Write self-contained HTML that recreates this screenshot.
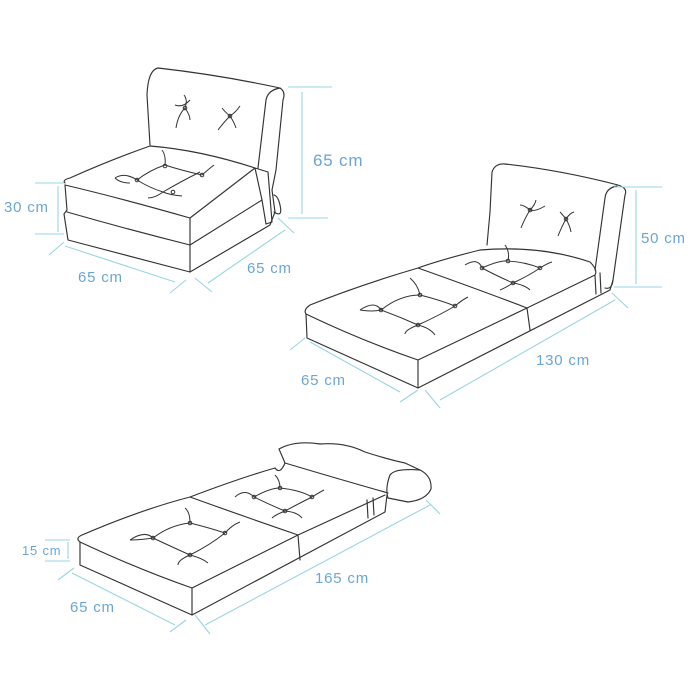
<!DOCTYPE html>
<html><head><meta charset="utf-8"><style>
html,body{margin:0;padding:0;background:#fff;}
svg{display:block}
text{font-family:"Liberation Sans",sans-serif;fill:#6aa6d4;font-size:15px;letter-spacing:0.8px}
.l{fill:none;stroke:#333;stroke-width:1.15;stroke-linejoin:round;stroke-linecap:round}
.t{fill:none;stroke:#333;stroke-width:1}
.d{stroke:#9ad4e3;stroke-width:1.1;fill:none}
</style></head><body>
<svg width="700" height="700" viewBox="0 0 700 700">
<!-- CHAIR -->
<g class="l">
<path d="M150,145 L147,95 Q148,70 158,68 Q220,75 280,88 Q286,92 283,100 L276,170 L272,190"/>
<path d="M280,88 Q268,90 266,100 L258,168"/>
<path d="M65,183 Q62,180 70,178 Q110,160 150,146 Q200,150 255,168 L190,218 Q120,198 65,185"/>
<path d="M65,185 L67,210 L64,214 L68,240 L190,272 L270,225 L275,212 L272,190"/>
<path d="M67,212 Q130,230 190,245 L262,200"/>
<path d="M190,218 L190,272"/>
<path d="M255,168 L262,200 L266,224 L272,222 L268,172 Z"/>
<path d="M274,212 Q283,218 280,205 Q278,196 274,195"/>
</g>
<g class="t">
<path d="M115,178 Q125,172 137,180 Q150,170 165,165 Q180,170 202,175"/>
<path d="M137,180 Q150,188 163,192 Q180,182 200,172"/>
<path d="M165,165 Q166,155 162,150 M163,192 Q170,195 182,196 M163,192 Q155,198 148,198 M202,175 Q210,168 214,165 M115,178 Q120,183 130,183"/>
<circle cx="165" cy="166" r="1.8"/><circle cx="137" cy="180" r="1.8"/><circle cx="202" cy="175" r="1.8"/><circle cx="173" cy="192" r="1.8"/>
<path d="M175,105 Q183,108 190,100 M185,108 Q178,115 176,128 M185,108 Q188,100 184,95 M185,108 Q190,115 190,120"/>
<path d="M230,116 Q236,112 240,106 M230,116 Q224,122 218,130 M230,116 Q234,122 236,128 M230,116 Q225,112 222,108"/>
<circle cx="185" cy="108" r="1.8"/><circle cx="230" cy="116" r="1.8"/>
</g>
<g class="d">
<line x1="35" y1="183" x2="64" y2="183"/><line x1="35" y1="234" x2="64" y2="234"/><line x1="58" y1="186" x2="58" y2="232"/>
<line x1="288" y1="87" x2="332" y2="87"/><line x1="288" y1="218" x2="328" y2="218"/><line x1="302" y1="92" x2="302" y2="214"/>
<line x1="65" y1="246" x2="175" y2="282"/><line x1="49" y1="255" x2="64" y2="242"/><line x1="170" y1="293" x2="186" y2="280"/>
<line x1="208" y1="283" x2="285" y2="230"/><line x1="195" y1="278" x2="212" y2="292"/><line x1="278" y1="218" x2="294" y2="233"/>
</g>
<text x="4" y="212">30 cm</text>
<text x="313" y="166" style="font-size:17px">65 cm</text>
<text x="78" y="282">65 cm</text>
<text x="247" y="273">65 cm</text>

<!-- BED 2 -->
<g class="l">
<path d="M487,245 L490,212 L492,172 Q495,163 505,164 Q560,170 618,185 Q628,188 625,195 L613,280 Q612,290 605,288"/>
<path d="M617,186 Q606,188 605,198 L595,270"/>
<path d="M418,268 Q440,260 480,250 Q540,245 590,262 Q598,270 595,275 L527,308 Q480,290 418,268 Q360,285 310,305 Q303,310 306,314 Q360,340 418,360 L527,308"/>
<path d="M306,314 L307,338 L418,388 L610,290 L613,280"/>
<path d="M418,360 L418,388 M527,308 L530,330 M595,275 L596,294 M600,273 L601,293"/>
</g>
<g class="t">
<path d="M360,310 Q375,300 381,310 Q400,295 420,295 Q440,300 455,306"/>
<path d="M381,310 Q400,317 418,325 Q440,315 455,306"/>
<path d="M420,295 Q418,285 410,278 M418,325 Q405,330 405,334 M418,325 Q430,328 435,335 M455,306 Q462,300 468,297 M360,310 Q372,312 381,310"/>
<circle cx="420" cy="295" r="1.8"/><circle cx="381" cy="310" r="1.8"/><circle cx="455" cy="306" r="1.8"/><circle cx="418" cy="325" r="1.8"/>
<path d="M465,265 Q478,257 482,268 Q500,260 508,261 Q525,262 540,268"/>
<path d="M482,268 Q495,275 513,283 Q530,275 540,268"/>
<path d="M508,261 Q510,252 505,245 M513,283 Q505,288 500,290 M513,283 Q525,285 530,290 M540,268 Q548,263 552,262"/>
<circle cx="508" cy="261" r="1.8"/><circle cx="482" cy="268" r="1.8"/><circle cx="540" cy="268" r="1.8"/><circle cx="513" cy="283" r="1.8"/>
<path d="M530,210 Q535,205 536,200 M530,210 Q525,218 521,228 M530,210 Q535,212 545,206 M530,210 Q524,205 520,205"/>
<path d="M566,219 Q570,213 574,212 M566,219 Q562,226 558,236 M566,219 Q570,226 571,232 M566,219 Q562,214 560,212"/>
<circle cx="530" cy="210" r="1.8"/><circle cx="566" cy="219" r="1.8"/>
</g>
<g class="d">
<line x1="614" y1="187" x2="662" y2="187"/><line x1="614" y1="287" x2="662" y2="287"/><line x1="636" y1="190" x2="636" y2="284"/>
<line x1="310" y1="342" x2="400" y2="392"/><line x1="290" y1="350" x2="305" y2="338"/><line x1="400" y1="402" x2="418" y2="390"/>
<line x1="440" y1="400" x2="615" y2="300"/><line x1="425" y1="390" x2="440" y2="408"/><line x1="612" y1="293" x2="628" y2="308"/>
</g>
<text x="641" y="243">50 cm</text>
<text x="536" y="365">130 cm</text>
<text x="301" y="385">65 cm</text>

<!-- BED 3 -->
<g class="l">
<path d="M285,463 L279,449 Q295,440 320,444 Q345,442 365,452 Q390,460 405,463 L420,470 Q432,476 431,489 Q426,500 408,502 L388,498"/>
<path d="M285,463 Q335,478 388,493"/>
<path d="M420,470 Q395,468 390,475 Q385,488 388,498"/>
<path d="M275,468 Q240,478 190,497 Q240,515 298,535 L385,495 M190,497 Q140,510 82,535 Q75,538 80,542 Q140,570 192,588 L298,535 M275,468 Q280,475 285,463"/>
<path d="M80,542 L80,565 L192,615 L385,512 L387,495"/>
<path d="M192,588 L192,615 M298,535 L300,560 M367,500 L368,518 M373,498 L374,515"/>
</g>
<g class="t">
<path d="M130,540 Q145,530 153,538 Q170,525 190,523 Q210,528 225,533"/>
<path d="M153,538 Q170,546 190,555 Q210,545 225,533"/>
<path d="M190,523 Q190,512 185,508 M190,555 Q178,560 178,565 M190,555 Q202,558 208,563 M225,533 Q232,525 240,522 M130,540 Q140,540 153,538"/>
<circle cx="190" cy="523" r="1.8"/><circle cx="153" cy="538" r="1.8"/><circle cx="225" cy="533" r="1.8"/><circle cx="190" cy="555" r="1.8"/>
<path d="M235,497 Q245,488 254,497 Q270,488 280,488 Q300,490 312,497"/>
<path d="M254,497 Q270,505 285,511 Q300,503 312,497"/>
<path d="M280,488 Q280,480 275,475 M285,511 Q275,515 272,518 M285,511 Q297,512 302,518 M312,497 Q320,492 324,490"/>
<circle cx="280" cy="488" r="1.8"/><circle cx="254" cy="497" r="1.8"/><circle cx="312" cy="497" r="1.8"/><circle cx="285" cy="511" r="1.8"/>
</g>
<g class="d">
<line x1="45" y1="540" x2="70" y2="540"/><line x1="45" y1="561" x2="70" y2="561"/><line x1="68" y1="542" x2="68" y2="559"/>
<line x1="72" y1="573" x2="175" y2="625"/><line x1="58" y1="580" x2="74" y2="568"/><line x1="170" y1="632" x2="186" y2="620"/>
<line x1="205" y1="625" x2="430" y2="505"/><line x1="195" y1="615" x2="210" y2="634"/><line x1="426" y1="500" x2="440" y2="514"/>
</g>
<text x="22" y="555" style="font-size:13px">15 cm</text>
<text x="315" y="583">165 cm</text>
<text x="70" y="612">65 cm</text>
</svg>
</body></html>
